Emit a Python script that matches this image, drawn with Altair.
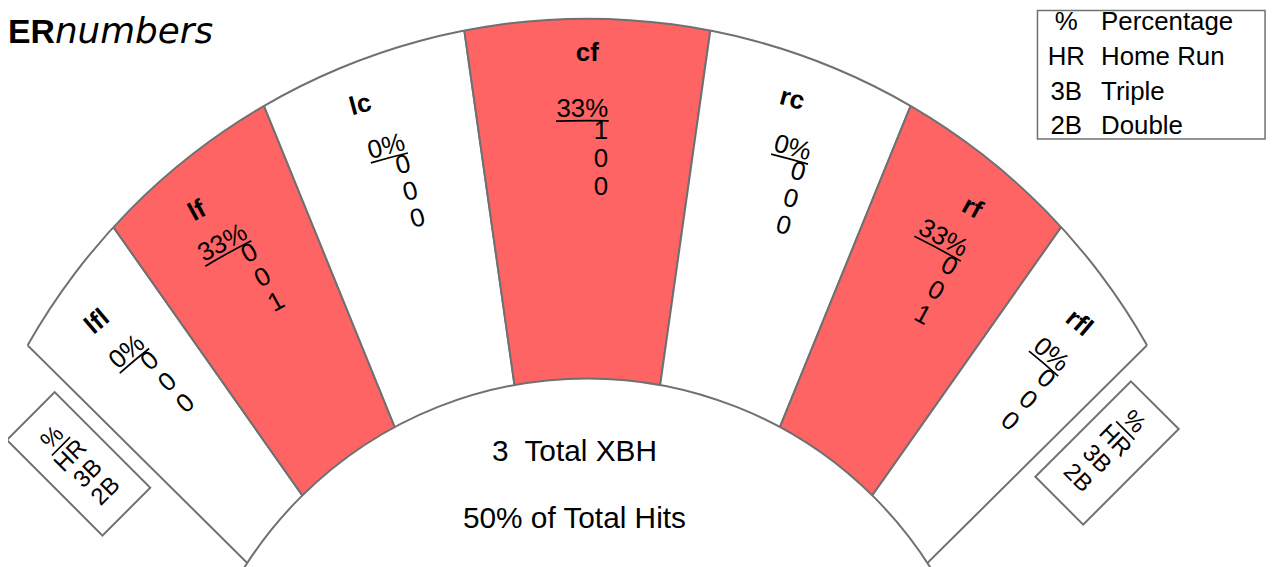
import math
import numpy as np
import pandas as pd
import altair as alt

# ---------------- data ----------------
POSITIONS = ["lfl", "lf", "lc", "cf", "rc", "rf", "rfl"]
PCT = [0, 33, 0, 33, 0, 33, 0]
HOME_RUNS = [0, 0, 0, 1, 0, 0, 0]
TRIPLES = [0, 0, 0, 0, 0, 0, 0]
DOUBLES = [0, 1, 0, 0, 0, 1, 0]
TOTAL_XBH = 3
PCT_OF_TOTAL_HITS = 50
KEY_ABBR = ["%", "HR", "3B", "2B"]
KEY_NAMES = ["Percentage", "Home Run", "Triple", "Double"]
TITLE_BOLD = "ER"
TITLE_ITALIC = "numbers"

# ---------------- layout ----------------
W, H = 1271, 559
FONT = "Liberation Sans"
RED = "#FF6464"
GRAY = "#707070"
SPAN_DEG = [10.1, 13.0, 14.1, 16.1, 14.1, 13.0, 10.1]
FX, FY = 583.0, 896.0          # apex of the wedges
FENCE_K, FENCE_R = 240.0, 647.0
INNER_K, INNER_R = 117.0, 408.0
LABEL_R = [763, 797, 832, 852, 832, 797, 763]
LABEL_DX = [-1, -12, -12, 0, -11, 6, 3]
PCT_INSET = 91
STACK_DX = 21
DIGIT_GAP = [22, 50, 78]
FS = 26
ARIAL_W = {"0": .556, "1": .556, "2": .556, "3": .556, "4": .556, "5": .556,
           "6": .556, "7": .556, "8": .556, "9": .556, "%": .889}


def rad(d):
    return d * math.pi / 180.0


def fence_dist(th_deg):
    t = rad(th_deg)
    return FENCE_K * math.cos(t) + math.sqrt(FENCE_R ** 2 - (FENCE_K * math.sin(t)) ** 2)


total = sum(SPAN_DEG)
starts = np.cumsum([0] + SPAN_DEG[:-1])
theta_c = [-total / 2 + s + w / 2 for s, w in zip(starts, SPAN_DEG)]

wedges = pd.DataFrame({"idx": range(len(POSITIONS)), "pos": POSITIONS,
                       "span": SPAN_DEG, "pct": PCT})

# label, percentage and digits placed in each wedge's rotated frame
lab_rows, pct_rows, dig_rows, ul_rows = [], [], [], []
for i, pos in enumerate(POSITIONS):
    th = theta_c[i]
    rot = th % 360
    r_lab = LABEL_R[i]
    dx = LABEL_DX[i]
    lab_rows.append({"t": rad(th) + math.atan2(dx, r_lab), "r": math.hypot(r_lab, dx),
                     "a": rot, "txt": pos})
    r_pct = fence_dist(th) - PCT_INSET
    ptxt = f"{PCT[i]}%"
    pct_rows.append({"t": rad(th), "r": r_pct, "a": rot, "txt": ptxt})
    for j, v in enumerate([HOME_RUNS[i], TRIPLES[i], DOUBLES[i]]):
        dig_rows.append({"t": rad(th), "r": r_pct - DIGIT_GAP[j], "a": rot, "txt": str(v)})
    w = sum(ARIAL_W[c] for c in ptxt) * FS
    r_u = r_pct - 11.5
    ul_rows.append({"t1": rad(th) + math.atan((STACK_DX - w - 0.5) / r_u),
                    "t2": rad(th) + math.atan((STACK_DX + 0.5) / r_u),
                    "r1": r_u + 0.85, "r2": r_u - 0.85})

labels = pd.DataFrame(lab_rows)
pcts = pd.DataFrame(pct_rows)
digits = pd.DataFrame(dig_rows)
ulines = pd.DataFrame(ul_rows)

# fence arc extent
th_e = rad(-total / 2)
d_e = fence_dist(-total / 2)
px, py = FX + d_e * math.sin(th_e), FY - d_e * math.cos(th_e)
FCX, FCY = FX, FY - FENCE_K
phi = math.atan2(px - FCX, FCY - py)
fence_df = pd.DataFrame({"t1": [phi], "t2": [-phi]})
one = pd.DataFrame({"k": [0]})

# ---------------- layers ----------------
wedge_layer = alt.Chart(wedges).mark_arc(radius=1000, radius2=0, stroke=GRAY, strokeWidth=2).encode(
    theta=alt.Theta("span:Q", stack=True,
                    scale=alt.Scale(domain=[0, total], range=[rad(-total / 2), rad(total / 2)])),
    order=alt.Order("idx:Q"),
    fill=alt.condition("datum.pct > 0", alt.value(RED), alt.value("white")),
    x=alt.value(FX), y=alt.value(FY),
)

fence_mask = alt.Chart(one).mark_arc(radius=1700, radius2=FENCE_R, theta=0, theta2=2 * math.pi,
                                     fill="white").encode(x=alt.value(FCX), y=alt.value(FCY))

fence_line = alt.Chart(fence_df).mark_arc(radius=FENCE_R + 1, radius2=FENCE_R - 1, fill=GRAY).encode(
    theta=alt.Theta("t1:Q", scale=None), theta2=alt.Theta2("t2:Q"),
    x=alt.value(FCX), y=alt.value(FCY),
)

inner_disc = alt.Chart(one).mark_arc(radius=INNER_R, theta=0, theta2=2 * math.pi, fill="white",
                                     stroke=GRAY, strokeWidth=2).encode(
    x=alt.value(FX), y=alt.value(FY - INNER_K))


def polar_text(df, **kw):
    return alt.Chart(df).mark_text(font=FONT, fontSize=FS, baseline="middle", color="black", **kw).encode(
        theta=alt.Theta("t:Q", scale=None), radius=alt.Radius("r:Q", scale=None),
        angle=alt.Angle("a:Q", scale=None), text=alt.Text("txt:N"),
        x=alt.value(FX), y=alt.value(FY),
    )


label_layer = polar_text(labels, fontWeight="bold", align="center")
pct_layer = polar_text(pcts, align="right", dx=STACK_DX)
digit_layer = polar_text(digits, align="right", dx=STACK_DX)

ul_layer = alt.Chart(ulines).mark_arc(fill="black").encode(
    theta=alt.Theta("t1:Q", scale=None), theta2=alt.Theta2("t2:Q"),
    radius=alt.Radius("r1:Q", scale=None), radius2=alt.Radius2("r2:Q"),
    x=alt.value(FX), y=alt.value(FY),
)


# rotated key boxes
def rot_pos(cx, cy, a_deg, e1, e2):
    a = rad(a_deg)
    return cx + e1 * math.cos(a) - e2 * math.sin(a), cy + e1 * math.sin(a) + e2 * math.cos(a)


BOXES = [(71, 457, -45, [-38, -12, 13, 38], 0), (1106, 446, 45, [-42, -15, 11, 38], -3)]
box_rows, btxt_rows, bul_rows = [], [], []
for cx, cy, a, offs, e1 in BOXES:
    box_rows.append({"x": cx, "y": cy, "a": a % 360})
    for ab, off in zip(KEY_ABBR, offs):
        x, y = rot_pos(cx, cy, a, e1, off + 1)
        btxt_rows.append({"x": x, "y": y, "a": a % 360, "txt": ab})
    x, y = rot_pos(cx, cy, a, e1, offs[0] + 13)
    bul_rows.append({"x": x, "y": y, "a": a % 360})

box_layer = alt.Chart(pd.DataFrame(box_rows)).mark_point(
    shape="M-0.5,-1L0.5,-1L0.5,1L-0.5,1Z", size=136 ** 2, filled=True, fill="white",
    stroke=GRAY, strokeWidth=2, opacity=1).encode(
    x=alt.X("x:Q", scale=None), y=alt.Y("y:Q", scale=None), angle=alt.Angle("a:Q", scale=None))

box_text = alt.Chart(pd.DataFrame(btxt_rows)).mark_text(
    font=FONT, fontSize=24, baseline="middle", align="center", color="black").encode(
    x=alt.X("x:Q", scale=None), y=alt.Y("y:Q", scale=None), angle=alt.Angle("a:Q", scale=None),
    text=alt.Text("txt:N"))

box_ul = alt.Chart(pd.DataFrame(bul_rows)).mark_point(
    shape="M-1,0L1,0", size=26 ** 2, filled=False, stroke="black", strokeWidth=1.6, opacity=1).encode(
    x=alt.X("x:Q", scale=None), y=alt.Y("y:Q", scale=None), angle=alt.Angle("a:Q", scale=None))

# center text
center_df = pd.DataFrame({"txt": [f"{TOTAL_XBH}\u00a0 Total XBH", f"{PCT_OF_TOTAL_HITS}% of Total Hits"],
                          "y": [445, 513]})
center_layer = alt.Chart(center_df).mark_text(font=FONT, fontSize=30, baseline="middle",
                                              align="center", color="black").encode(
    x=alt.value(570), y=alt.Y("y:Q", scale=None), text=alt.Text("txt:N"))

# legend (top right)
legend_box = alt.Chart(one).mark_rect(fill="white", stroke=GRAY, strokeWidth=1.5).encode(
    x=alt.value(1036), x2=alt.value(1265), y=alt.value(0.75), y2=alt.value(130))
leg_df = pd.DataFrame({"abbr": KEY_ABBR, "name": KEY_NAMES, "y": [12.5, 47.5, 82.5, 117.5]})
leg_abbr = alt.Chart(leg_df).mark_text(font=FONT, fontSize=26, baseline="middle", align="center",
                                       color="black").encode(
    x=alt.value(1065), y=alt.Y("y:Q", scale=None), text=alt.Text("abbr:N"))
leg_name = alt.Chart(leg_df).mark_text(font=FONT, fontSize=26, baseline="middle", align="left",
                                       color="black").encode(
    x=alt.value(1100), y=alt.Y("y:Q", scale=None), text=alt.Text("name:N"))

# title
TITLE_FS = 34
title_bold = alt.Chart(pd.DataFrame({"txt": [TITLE_BOLD]})).mark_text(
    font=FONT, fontSize=TITLE_FS, fontWeight="bold", align="left", baseline="alphabetic",
    color="black").encode(x=alt.value(0), y=alt.value(33), text=alt.Text("txt:N"))
title_ital = alt.Chart(pd.DataFrame({"txt": [TITLE_ITALIC]})).mark_text(
    font="DejaVu Sans", fontSize=36, fontStyle="italic", align="left", baseline="alphabetic",
    color="black").encode(x=alt.value(1.389 * TITLE_FS), y=alt.value(33), text=alt.Text("txt:N"))

chart = alt.layer(
    wedge_layer, fence_mask, fence_line, inner_disc,
    label_layer, pct_layer, digit_layer, ul_layer,
    box_layer, box_text, box_ul, center_layer,
    legend_box, leg_abbr, leg_name, title_bold, title_ital,
).resolve_scale(theta="independent", radius="independent").properties(
    width=W, height=H, autosize=alt.AutoSizeParams(type="none"), padding=0,
).configure_view(strokeWidth=0)

chart.save("out.html", embed_options={"renderer": "svg", "actions": False})
